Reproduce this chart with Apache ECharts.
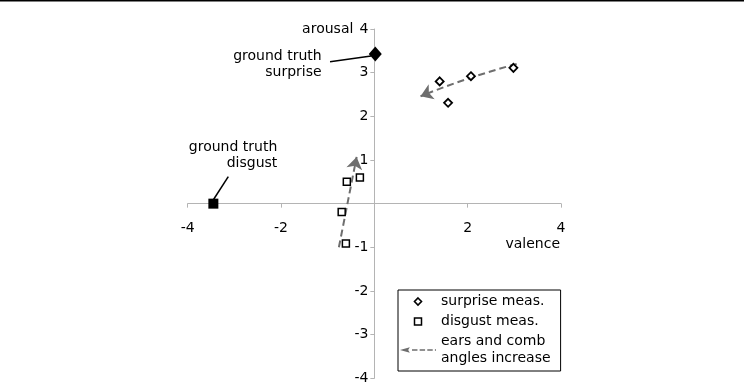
<!DOCTYPE html>
<html><head><meta charset="utf-8">
<script src="https://cdn.jsdelivr.net/npm/echarts@6/dist/echarts.min.js"></script>
<style>html,body{margin:0;padding:0;background:#fff}#c{width:744px;height:386px}</style>
</head><body><div id="c"></div>
<script>
// ---- data ----
const xTickLabels = ['-4', '-2', '', '2', '4'];      // for -4,-2,0,2,4
const yTickLabels = ['-4', '-3', '-2', '-1', '', '1', '2', '3', '4'];
const surpriseMeas = [[1.40, 2.80], [2.07, 2.92], [2.98, 3.11], [1.58, 2.31]];
const disgustMeas = [[-0.59, 0.50], [-0.31, 0.60], [-0.70, -0.19], [-0.61, -0.91]];
const groundTruthSurprise = [[0.02, 3.43]];
const groundTruthDisgust = [[-3.45, 0]];
const surpriseArrow = [[3.05, 3.20], [0.99, 2.46]];
const disgustArrow = [[-0.76, -1.00], [-0.38, 1.07]];
const noteTexts = ['ground truth\nsurprise', 'ground truth\ndisgust'];
const noteAnchors = [[-1.13, 3.19], [-2.08, 1.11]];
const noteLeaders = [[[-0.95, 3.25], [-0.07, 3.38]], [[-3.13, 0.62], [-3.45, 0.09]]];
const legendNames = ['surprise meas.', 'disgust meas.', 'ears and comb\nangles increase'];

const FONT = 'DejaVu Sans';
const AX = '#b4b4b4';
const ARROW = '#6e6e6e';

// grid layout (pixels)
const G = {left: 187.7, right: 183, top: 29, bottom: 7.7, w: 744, h: 386};
const plotW = G.w - G.left - G.right, plotH = G.h - G.top - G.bottom;

const chart = echarts.init(document.getElementById('c'), null, {renderer: 'canvas'});
chart.setOption({
  animation: false,
  backgroundColor: '#fff',
  textStyle: {fontFamily: FONT, color: '#000'},
  grid: {left: G.left, right: G.right, top: G.top, bottom: G.bottom, containLabel: false, outerBoundsMode: 'none'},
  graphic: [{type: 'rect', left: 0, top: 0, shape: {width: 744, height: 1.5}, style: {fill: '#000'}}],
  xAxis: {
    type: 'value', min: -4, max: 4, interval: 2,
    position: 'bottom', offset: -plotH / 2,
    name: 'valence', nameLocation: 'end', nameGap: 0, nameMoveOverlap: false,
    nameTextStyle: {fontSize: 14, fontFamily: FONT, color: '#000', align: 'right', verticalAlign: 'top', lineHeight: 16, padding: [33, 1, 0, 0]},
    axisLine: {onZero: false, lineStyle: {color: AX, width: 1}},
    axisTick: {show: true, length: 4, lineStyle: {color: AX}},
    axisLabel: {fontSize: 14, fontFamily: FONT, color: '#000', margin: 18,
      formatter: (v) => xTickLabels[Math.round((v + 4) / 2)]},
    splitLine: {show: false}
  },
  yAxis: {
    type: 'value', min: -4, max: 4, interval: 1,
    position: 'left', offset: -plotW / 2,
    name: 'arousal', nameLocation: 'end', nameGap: 0, nameMoveOverlap: false,
    nameTextStyle: {fontSize: 14, fontFamily: FONT, color: '#000', align: 'right', verticalAlign: 'middle', padding: [0, 21, 0, 0]},
    axisLine: {onZero: false, lineStyle: {color: AX, width: 1}},
    axisTick: {show: true, length: 4, lineStyle: {color: AX}},
    axisLabel: {fontSize: 14, fontFamily: FONT, color: '#000', margin: 6,
      formatter: (v) => yTickLabels[Math.round(v + 4)]},
    splitLine: {show: false}
  },
  legend: {
    data: [
      {name: legendNames[0], icon: 'path://M4,0L8,4L4,8L0,4Z', itemStyle: {borderWidth: 1.6}},
      {name: legendNames[1], icon: 'path://M0,0H8V8H0Z', itemStyle: {borderWidth: 1.5}},
      {name: legendNames[2], icon: 'path://M0,4L9,1.5L7.5,4L9,6.5Z M11,3.2h5v1.6h-5Z M18,3.2h5v1.6h-5Z M25,3.2h5v1.6h-5Z M32,3.2h1v1.6h-1Z',
        itemStyle: {color: ARROW, borderWidth: 0}}
    ],
    orient: 'vertical', left: 398, top: 290,
    padding: [3, 10, 4, 2],
    itemWidth: 36, itemHeight: 7, itemGap: 3,
    symbolKeepAspect: true,
    borderColor: '#000', borderWidth: 1, backgroundColor: '#fff',
    selectedMode: false,
    textStyle: {fontSize: 14, fontFamily: FONT, color: '#000', lineHeight: 17}
  },
  series: [
    {
      name: legendNames[0], type: 'scatter', data: surpriseMeas, silent: true,
      symbol: 'diamond', symbolSize: 8,
      itemStyle: {color: '#fff', borderColor: '#000', borderWidth: 1.8, opacity: 1}, z: 5
    },
    {
      name: legendNames[1], type: 'scatter', data: disgustMeas, silent: true,
      symbol: 'rect', symbolSize: 7,
      itemStyle: {color: '#fff', borderColor: '#000', borderWidth: 1.5, opacity: 1}, z: 5
    },
    {
      name: legendNames[2], type: 'lines', coordinateSystem: 'cartesian2d', silent: true,
      data: [
        {coords: surpriseArrow, lineStyle: {curveness: -0.03}},
        {coords: disgustArrow}
      ],
      symbol: ['none', 'arrow'], symbolSize: 12,
      itemStyle: {color: ARROW},
      lineStyle: {color: ARROW, width: 2, type: [7, 4], opacity: 1}, z: 3
    },
    {
      name: 'ground truth surprise', type: 'scatter', data: groundTruthSurprise, silent: true,
      symbol: 'diamond', symbolSize: [13, 15], itemStyle: {color: '#000', opacity: 1}, z: 6
    },
    {
      name: 'ground truth disgust', type: 'scatter', data: groundTruthDisgust, silent: true,
      symbol: 'rect', symbolSize: 10, itemStyle: {color: '#000', opacity: 1}, z: 6
    },
    {
      name: 'leaders', type: 'lines', coordinateSystem: 'cartesian2d', silent: true,
      data: noteLeaders.map(c => ({coords: c})),
      symbol: ['none', 'none'],
      lineStyle: {color: '#000', width: 1.5, opacity: 1}, z: 4
    },
    {
      name: 'notes', type: 'scatter', silent: true, symbolSize: 0,
      itemStyle: {opacity: 1},
      data: noteAnchors.map((a, i) => ({value: a, label: {formatter: noteTexts[i]}})),
      label: {show: true, position: 'inside', align: 'right', verticalAlign: 'middle',
        fontSize: 14, fontFamily: FONT, color: '#000', lineHeight: 16, opacity: 1}
    }
  ]
});
</script></body></html>
